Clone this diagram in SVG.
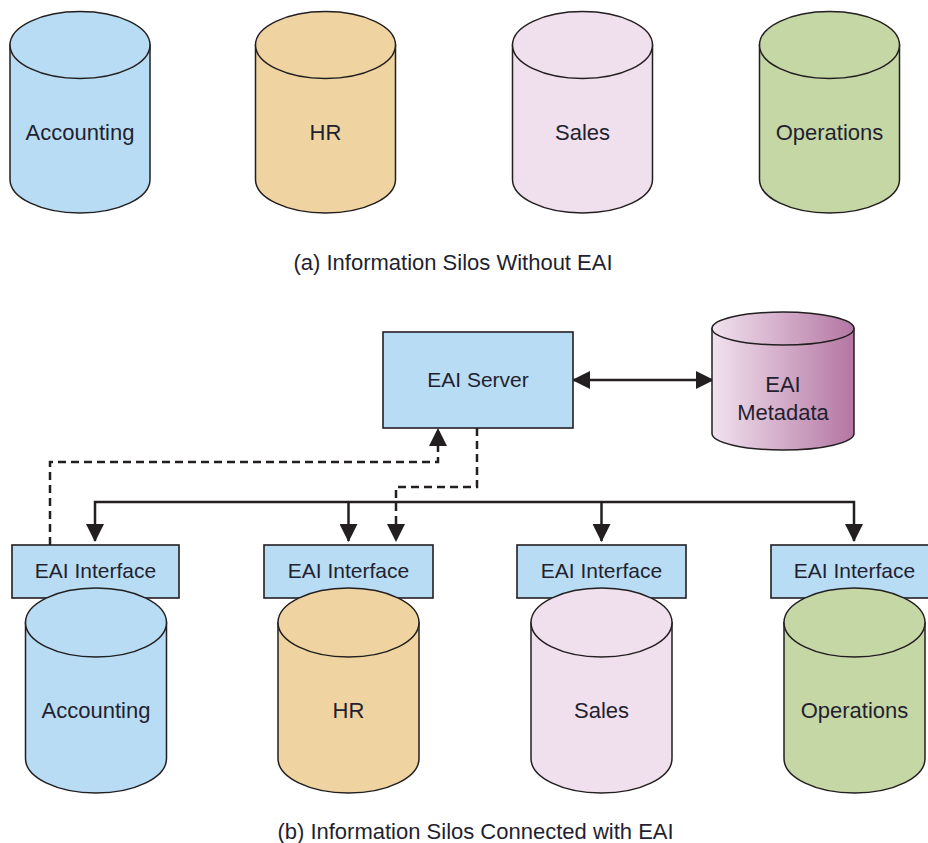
<svg xmlns="http://www.w3.org/2000/svg" width="928" height="843" viewBox="0 0 928 843">
<style>
  .cyl { stroke: #231f20; stroke-width: 1.5; }
  .box { fill: #b7dcf3; stroke: #231f20; stroke-width: 1.6; }
  .lbl { font-family: "Liberation Sans", Arial, sans-serif; font-size: 22px; fill: #231f30; text-anchor: middle; }
  .lbl21 { font-size: 21px; }
  .blue { fill: #b7dcf3; }
  .orange { fill: #efd3a0; }
  .pink { fill: #f0dfec; }
  .green { fill: #c6d7a6; }
  .meta { fill: url(#metaGrad); }
  .solid { fill: none; stroke: #231f20; stroke-width: 2.5; }
  .dash { fill: none; stroke: #231f20; stroke-width: 2.5; stroke-dasharray: 8 5; }
</style>
<defs>
  <linearGradient id="metaGrad" x1="0" y1="0" x2="1" y2="0">
    <stop offset="0" stop-color="#f1e2ee"/>
    <stop offset="1" stop-color="#b476a3"/>
  </linearGradient>
  <marker id="arr" markerUnits="userSpaceOnUse" markerWidth="18" markerHeight="18" refX="17" refY="9" orient="auto">
    <path d="M0,0 L18,9 L0,18 Z" fill="#231f20"/>
  </marker>
  <marker id="arrStart" markerUnits="userSpaceOnUse" markerWidth="18" markerHeight="18" refX="1" refY="9" orient="auto">
    <path d="M18,0 L0,9 L18,18 Z" fill="#231f20"/>
  </marker>
</defs>

<!-- (a) top cylinders -->
<g id="top-accounting">
  <path class="cyl blue" d="M10,45 L10,179.5 A70,33.5 0 0 0 150,179.5 L150,45 Z"/>
  <ellipse class="cyl blue" cx="80" cy="45" rx="70" ry="33.5"/>
  <text class="lbl" x="80" y="140">Accounting</text>
</g>
<g id="top-hr">
  <path class="cyl orange" d="M255.5,45 L255.5,179.5 A70,33.5 0 0 0 395.5,179.5 L395.5,45 Z"/>
  <ellipse class="cyl orange" cx="325.5" cy="45" rx="70" ry="33.5"/>
  <text class="lbl" x="325.5" y="140">HR</text>
</g>
<g id="top-sales">
  <path class="cyl pink" d="M512.5,45 L512.5,179.5 A70,33.5 0 0 0 652.5,179.5 L652.5,45 Z"/>
  <ellipse class="cyl pink" cx="582.5" cy="45" rx="70" ry="33.5"/>
  <text class="lbl" x="582.5" y="140">Sales</text>
</g>
<g id="top-operations">
  <path class="cyl green" d="M759.5,45 L759.5,179.5 A70,33.5 0 0 0 899.5,179.5 L899.5,45 Z"/>
  <ellipse class="cyl green" cx="829.5" cy="45" rx="70" ry="33.5"/>
  <text class="lbl" x="829.5" y="140">Operations</text>
</g>
<text id="caption-a" class="lbl" x="453" y="270">(a) Information Silos Without EAI</text>

<!-- (b) -->
<g id="connectors">
  <line class="solid" x1="573" y1="380" x2="713" y2="380" marker-start="url(#arrStart)" marker-end="url(#arr)"/>
  <path class="solid" d="M95,541 L95,502 L854,502 L854,541" marker-start="url(#arrStart)" marker-end="url(#arr)"/>
  <line class="solid" x1="348.5" y1="502" x2="348.5" y2="541" marker-end="url(#arr)"/>
  <line class="solid" x1="601.5" y1="502" x2="601.5" y2="541" marker-end="url(#arr)"/>
  <path class="dash" d="M50,545 L50,462 L438,462 L438,429" marker-end="url(#arr)"/>
  <path class="dash" d="M477,428 L477,487 L396,487 L396,541" marker-end="url(#arr)"/>
</g>

<g id="eai-server">
  <rect class="box" x="383" y="332" width="190" height="96"/>
  <text class="lbl lbl21" x="478" y="387">EAI Server</text>
</g>
<g id="eai-metadata">
  <path class="cyl meta" d="M712,328.5 L712,433.5 A71,16.5 0 0 0 854,433.5 L854,328.5 Z"/>
  <ellipse class="cyl meta" cx="783" cy="328.5" rx="71" ry="16.5"/>
  <text class="lbl" x="783" y="392">EAI</text>
  <text class="lbl" x="783" y="420">Metadata</text>
</g>

<g id="iface-accounting">
  <rect class="box" x="12" y="545" width="167" height="53"/>
  <text class="lbl lbl21" x="95.5" y="578">EAI Interface</text>
</g>
<g id="iface-hr">
  <rect class="box" x="264" y="545" width="169" height="53"/>
  <text class="lbl lbl21" x="348.5" y="578">EAI Interface</text>
</g>
<g id="iface-sales">
  <rect class="box" x="517" y="545" width="169" height="53"/>
  <text class="lbl lbl21" x="601.5" y="578">EAI Interface</text>
</g>
<g id="iface-operations">
  <rect class="box" x="771" y="545" width="169" height="53"/>
  <text class="lbl lbl21" x="854.5" y="578">EAI Interface</text>
</g>

<g id="bot-accounting">
  <path class="cyl blue" d="M25.5,622.5 L25.5,758.5 A70.5,34.5 0 0 0 166.5,758.5 L166.5,622.5 Z"/>
  <ellipse class="cyl blue" cx="96" cy="622.5" rx="70.5" ry="34.5"/>
  <text class="lbl" x="96" y="718">Accounting</text>
</g>
<g id="bot-hr">
  <path class="cyl orange" d="M278,622.5 L278,758.5 A70.5,34.5 0 0 0 419,758.5 L419,622.5 Z"/>
  <ellipse class="cyl orange" cx="348.5" cy="622.5" rx="70.5" ry="34.5"/>
  <text class="lbl" x="348.5" y="718">HR</text>
</g>
<g id="bot-sales">
  <path class="cyl pink" d="M531,622.5 L531,758.5 A70.5,34.5 0 0 0 672,758.5 L672,622.5 Z"/>
  <ellipse class="cyl pink" cx="601.5" cy="622.5" rx="70.5" ry="34.5"/>
  <text class="lbl" x="601.5" y="718">Sales</text>
</g>
<g id="bot-operations">
  <path class="cyl green" d="M784,622.5 L784,758.5 A70.5,34.5 0 0 0 925,758.5 L925,622.5 Z"/>
  <ellipse class="cyl green" cx="854.5" cy="622.5" rx="70.5" ry="34.5"/>
  <text class="lbl" x="854.5" y="718">Operations</text>
</g>
<text id="caption-b" class="lbl" x="475.5" y="839">(b) Information Silos Connected with EAI</text>
</svg>
